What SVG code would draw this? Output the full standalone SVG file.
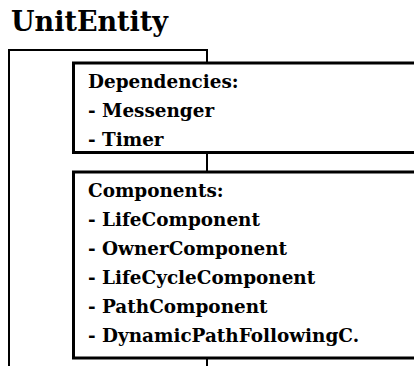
<svg xmlns="http://www.w3.org/2000/svg" width="414" height="366" viewBox="0 0 414 366">
<style>
.t{font-family:"DejaVu Serif","Liberation Serif",serif;font-weight:bold;fill:#000}
.b{font-size:18.4px}
.box{fill:#fff;stroke:#000;stroke-width:3}
.ln{fill:none;stroke:#000;stroke-width:2}
</style>
<rect width="414" height="366" fill="#fff"/>
<g id="title"><text class="t" x="11" y="31" font-size="27">UnitEntity</text></g>
<g id="connectors">
<polyline class="ln" points="9,366 9,50 207,50 207,63"/>
<line class="ln" x1="207" y1="152" x2="207" y2="172"/>
<line class="ln" x1="207" y1="358" x2="207" y2="366"/>
</g>
<g id="dependencies">
<rect class="box" x="73.5" y="63" width="360" height="89.5"/>
<text class="t b" x="88" y="88">Dependencies:</text>
<text class="t b" x="88" y="117">- Messenger</text>
<text class="t b" x="88" y="146">- Timer</text>
</g>
<g id="components">
<rect class="box" x="73.5" y="172" width="360" height="186"/>
<text class="t b" x="88" y="197">Components:</text>
<text class="t b" x="88" y="226">- LifeComponent</text>
<text class="t b" x="88" y="255">- OwnerComponent</text>
<text class="t b" x="88" y="284">- LifeCycleComponent</text>
<text class="t b" x="88" y="313">- PathComponent</text>
<text class="t b" x="88" y="342">- DynamicPathFollowingC.</text>
</g>
</svg>
